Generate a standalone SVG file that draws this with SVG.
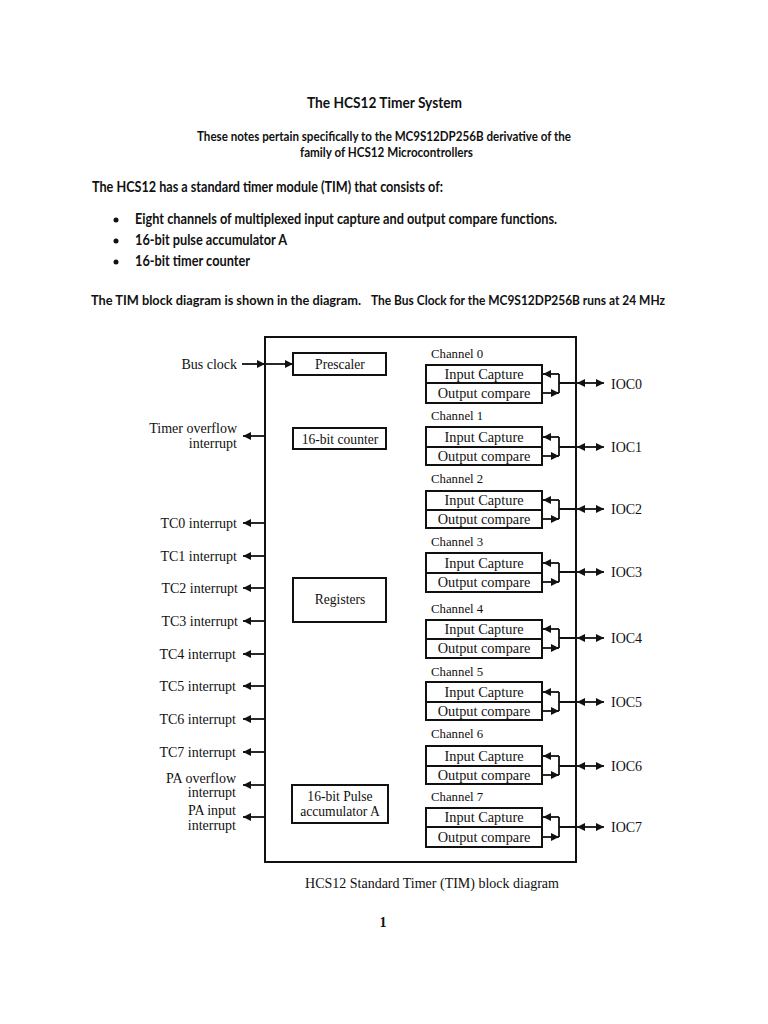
<svg xmlns="http://www.w3.org/2000/svg" width="768" height="1024" viewBox="0 0 768 1024">
<style>
.hd{font-family:Lato,"Open Sans","Liberation Sans",sans-serif;font-weight:bold;fill:#111}
.t{font-family:"Liberation Serif",serif;font-size:14px;fill:#111}
.tb{font-family:"Liberation Serif",serif;font-size:13.6px;fill:#111;text-anchor:middle}
.ch{font-family:"Liberation Serif",serif;font-size:12.8px;fill:#111}
.io{font-family:"Liberation Serif",serif;font-size:14.3px;fill:#111;text-anchor:middle}
.l{text-anchor:end}
.box{fill:#fff;stroke:#111;stroke-width:2}
.ln{stroke:#111;stroke-width:1.8;fill:none}
.a{marker-end:url(#ah)}
.aa{marker-start:url(#ah);marker-end:url(#ah)}
</style>
<defs>
<marker id="ah" viewBox="0 0 10 10" refX="10" refY="5" markerWidth="9" markerHeight="8" markerUnits="userSpaceOnUse" orient="auto-start-reverse">
<path d="M0,0 L10,5 L0,10 z" fill="#111"/>
</marker>
</defs>
<rect width="768" height="1024" fill="#fff"/>

<g id="header">
<text class="hd" x="307" y="108" font-size="15" textLength="155" lengthAdjust="spacingAndGlyphs">The HCS12 Timer System</text>
<text class="hd" x="197" y="141" font-size="13.5" textLength="374" lengthAdjust="spacingAndGlyphs">These notes pertain specifically to the MC9S12DP256B derivative of the</text>
<text class="hd" x="300" y="157" font-size="13.5" textLength="173" lengthAdjust="spacingAndGlyphs">family of HCS12 Microcontrollers</text>
<text class="hd" x="92" y="192" font-size="15" textLength="351" lengthAdjust="spacingAndGlyphs">The HCS12 has a standard timer module (TIM) that consists of:</text>
<circle cx="116" cy="220" r="2.5" fill="#111"/>
<circle cx="116" cy="241" r="2.5" fill="#111"/>
<circle cx="116" cy="262" r="2.5" fill="#111"/>
<text class="hd" x="135" y="224" font-size="15" textLength="422" lengthAdjust="spacingAndGlyphs">Eight channels of multiplexed input capture and output compare functions.</text>
<text class="hd" x="135" y="245" font-size="15" textLength="152" lengthAdjust="spacingAndGlyphs">16-bit pulse accumulator A</text>
<text class="hd" x="135" y="266" font-size="15" textLength="115" lengthAdjust="spacingAndGlyphs">16-bit timer counter</text>
<text class="hd" x="91" y="305" font-size="14" textLength="270" lengthAdjust="spacingAndGlyphs">The TIM block diagram is shown in the diagram.</text>
<text class="hd" x="371" y="305" font-size="14" textLength="294" lengthAdjust="spacingAndGlyphs">The Bus Clock for the MC9S12DP256B runs at 24 MHz</text>
</g>

<g id="tim">
<rect class="box" x="265" y="337" width="311" height="525" fill="none"/>
</g>

<g id="prescaler"><rect class="box" x="293" y="353" width="93" height="22"/><text class="tb" x="340" y="369">Prescaler</text></g>
<g id="counter"><rect class="box" x="293" y="428" width="93" height="21"/><text class="tb" x="340" y="444">16-bit counter</text></g>
<g id="registers"><rect class="box" x="293" y="578" width="93" height="44"/><text class="tb" x="340" y="604">Registers</text></g>
<g id="pulse"><rect class="box" x="292" y="785" width="96" height="38"/><text class="tb" x="340" y="801">16-bit Pulse</text><text class="tb" x="340" y="816">accumulator A</text></g>

<g id="ch0"><text class="ch" x="431" y="358">Channel 0</text><rect class="box" x="426" y="365" width="116" height="38"/><line class="ln" x1="426" y1="383" x2="542" y2="383"/><text class="io" x="484" y="379">Input Capture</text><text class="io" x="484" y="398">Output compare</text></g>
<g id="ch1"><text class="ch" x="431" y="420">Channel 1</text><rect class="box" x="426" y="427" width="116" height="38"/><line class="ln" x1="426" y1="447" x2="542" y2="447"/><text class="io" x="484" y="442">Input Capture</text><text class="io" x="484" y="461">Output compare</text></g>
<g id="ch2"><text class="ch" x="431" y="483">Channel 2</text><rect class="box" x="426" y="491" width="116" height="37"/><line class="ln" x1="426" y1="510" x2="542" y2="510"/><text class="io" x="484" y="505">Input Capture</text><text class="io" x="484" y="524">Output compare</text></g>
<g id="ch3"><text class="ch" x="431" y="546">Channel 3</text><rect class="box" x="426" y="553" width="116" height="39"/><line class="ln" x1="426" y1="573" x2="542" y2="573"/><text class="io" x="484" y="568">Input Capture</text><text class="io" x="484" y="587">Output compare</text></g>
<g id="ch4"><text class="ch" x="431" y="613">Channel 4</text><rect class="box" x="426" y="620" width="116" height="38"/><line class="ln" x1="426" y1="639" x2="542" y2="639"/><text class="io" x="484" y="634">Input Capture</text><text class="io" x="484" y="653">Output compare</text></g>
<g id="ch5"><text class="ch" x="431" y="676">Channel 5</text><rect class="box" x="426" y="682" width="116" height="38"/><line class="ln" x1="426" y1="702" x2="542" y2="702"/><text class="io" x="484" y="697">Input Capture</text><text class="io" x="484" y="716">Output compare</text></g>
<g id="ch6"><text class="ch" x="431" y="738">Channel 6</text><rect class="box" x="426" y="746" width="116" height="38"/><line class="ln" x1="426" y1="766" x2="542" y2="766"/><text class="io" x="484" y="761">Input Capture</text><text class="io" x="484" y="780">Output compare</text></g>
<g id="ch7"><text class="ch" x="431" y="801">Channel 7</text><rect class="box" x="426" y="808" width="116" height="39"/><line class="ln" x1="426" y1="827" x2="542" y2="827"/><text class="io" x="484" y="822">Input Capture</text><text class="io" x="484" y="842">Output compare</text></g>

<g id="left-labels">
<text class="t l" x="237" y="369">Bus clock</text>
<text class="t l" x="237" y="433">Timer overflow</text>
<text class="t l" x="237" y="448">interrupt</text>
<text class="t l" x="237" y="528">TC0 interrupt</text>
<text class="t l" x="237" y="561">TC1 interrupt</text>
<text class="t l" x="238" y="593">TC2 interrupt</text>
<text class="t l" x="238" y="626">TC3 interrupt</text>
<text class="t l" x="236" y="659">TC4 interrupt</text>
<text class="t l" x="236" y="691">TC5 interrupt</text>
<text class="t l" x="236" y="724">TC6 interrupt</text>
<text class="t l" x="236" y="757">TC7 interrupt</text>
<text class="t l" x="236" y="783">PA overflow</text>
<text class="t l" x="236" y="797">interrupt</text>
<text class="t l" x="236" y="815">PA input</text>
<text class="t l" x="236" y="830">interrupt</text>
</g>

<g id="ioc-labels">
<text class="t" x="611" y="389" font-size="13.5">IOC0</text>
<text class="t" x="611" y="452" font-size="13.5">IOC1</text>
<text class="t" x="611" y="514" font-size="13.5">IOC2</text>
<text class="t" x="611" y="577" font-size="13.5">IOC3</text>
<text class="t" x="611" y="643" font-size="13.5">IOC4</text>
<text class="t" x="611" y="707" font-size="13.5">IOC5</text>
<text class="t" x="611" y="771" font-size="13.5">IOC6</text>
<text class="t" x="611" y="832" font-size="13.5">IOC7</text>
</g>

<g id="connectors">
<line class="ln a" x1="242" y1="364" x2="265" y2="364"/>
<line class="ln a" x1="265" y1="364" x2="293" y2="364"/>
<line class="ln a" x1="265" y1="436" x2="243" y2="436"/>
<line class="ln a" x1="265" y1="523" x2="243" y2="523"/>
<line class="ln a" x1="265" y1="556" x2="243" y2="556"/>
<line class="ln a" x1="265" y1="588" x2="243" y2="588"/>
<line class="ln a" x1="265" y1="621" x2="243" y2="621"/>
<line class="ln a" x1="265" y1="654" x2="243" y2="654"/>
<line class="ln a" x1="265" y1="686" x2="243" y2="686"/>
<line class="ln a" x1="265" y1="719" x2="243" y2="719"/>
<line class="ln a" x1="265" y1="752" x2="243" y2="752"/>
<line class="ln a" x1="265" y1="785" x2="243" y2="785"/>
<line class="ln a" x1="265" y1="817" x2="243" y2="817"/>

<path class="ln" d="M559,374 V393 M559,383 H576"/><line class="ln a" x1="559" y1="374" x2="543" y2="374"/><line class="ln a" x1="542" y1="393" x2="559" y2="393"/><line class="ln aa" x1="577" y1="383" x2="604" y2="383"/>
<path class="ln" d="M559,437 V456 M559,447 H576"/><line class="ln a" x1="559" y1="437" x2="543" y2="437"/><line class="ln a" x1="542" y1="456" x2="559" y2="456"/><line class="ln aa" x1="577" y1="447" x2="604" y2="447"/>
<path class="ln" d="M559,500 V519 M559,509 H576"/><line class="ln a" x1="559" y1="500" x2="543" y2="500"/><line class="ln a" x1="542" y1="519" x2="559" y2="519"/><line class="ln aa" x1="577" y1="509" x2="604" y2="509"/>
<path class="ln" d="M559,563 V582 M559,572 H576"/><line class="ln a" x1="559" y1="563" x2="543" y2="563"/><line class="ln a" x1="542" y1="582" x2="559" y2="582"/><line class="ln aa" x1="577" y1="572" x2="604" y2="572"/>
<path class="ln" d="M559,629 V648 M559,638 H576"/><line class="ln a" x1="559" y1="629" x2="543" y2="629"/><line class="ln a" x1="542" y1="648" x2="559" y2="648"/><line class="ln aa" x1="577" y1="638" x2="604" y2="638"/>
<path class="ln" d="M559,692 V711 M559,702 H576"/><line class="ln a" x1="559" y1="692" x2="543" y2="692"/><line class="ln a" x1="542" y1="711" x2="559" y2="711"/><line class="ln aa" x1="577" y1="702" x2="604" y2="702"/>
<path class="ln" d="M559,756 V775 M559,766 H576"/><line class="ln a" x1="559" y1="756" x2="543" y2="756"/><line class="ln a" x1="542" y1="775" x2="559" y2="775"/><line class="ln aa" x1="577" y1="766" x2="604" y2="766"/>
<path class="ln" d="M559,817 V837 M559,827 H576"/><line class="ln a" x1="559" y1="817" x2="543" y2="817"/><line class="ln a" x1="542" y1="837" x2="559" y2="837"/><line class="ln aa" x1="577" y1="827" x2="604" y2="827"/>
</g>

<g id="caption">
<text class="t" x="432" y="888" text-anchor="middle">HCS12 Standard Timer (TIM) block diagram</text>
<text class="t" x="383" y="927" text-anchor="middle" font-weight="bold">1</text>
</g>
</svg>
